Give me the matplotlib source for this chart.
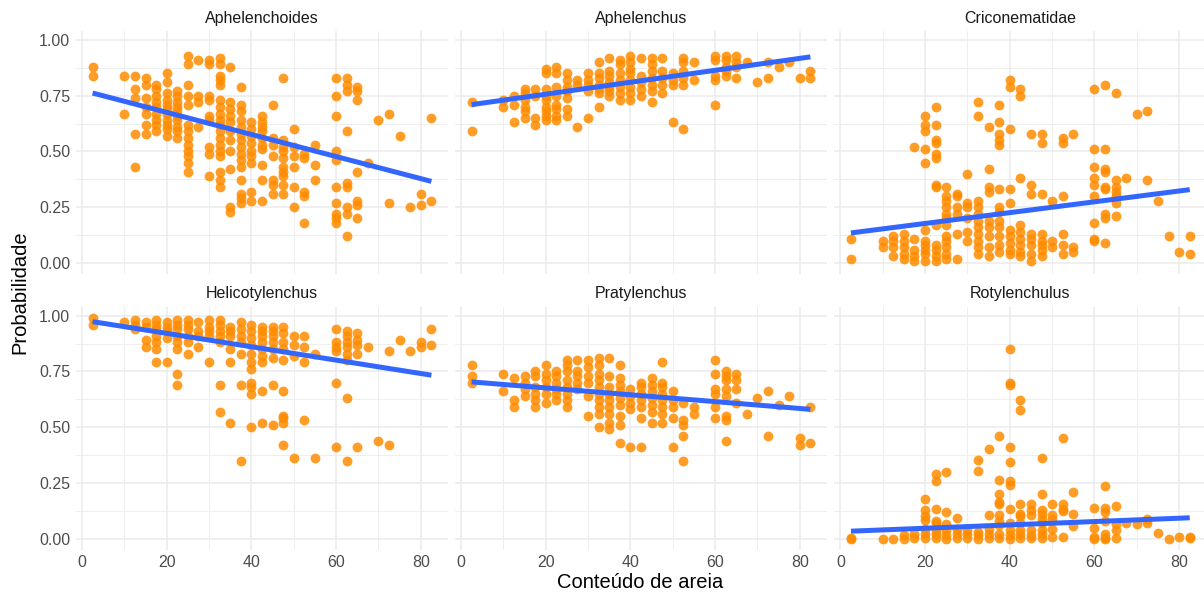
import matplotlib.pyplot as plt
from matplotlib.ticker import FixedLocator

plt.rcParams['font.family'] = ['Liberation Sans', 'DejaVu Sans']

species = ["Aphelenchoides", "Aphelenchus", "Criconematidae",
           "Helicotylenchus", "Pratylenchus", "Rotylenchulus"]

# probability values per sand-content column (x -> list of y)
aphelenchoides = {
    2.5: [0.88, 0.84], 10: [0.84, 0.67], 12.5: [0.84, 0.78, 0.74, 0.58, 0.43],
    15: [0.83, 0.80, 0.74, 0.70, 0.67, 0.62, 0.58],
    17.5: [0.80, 0.78, 0.75, 0.72, 0.70, 0.67, 0.64, 0.62, 0.59],
    20: [0.85, 0.81, 0.76, 0.73, 0.71, 0.69, 0.67, 0.64, 0.62, 0.60, 0.57],
    22.5: [0.77, 0.75, 0.72, 0.70, 0.68, 0.66, 0.64, 0.61, 0.59, 0.56],
    25: [0.93, 0.89, 0.80, 0.75, 0.71, 0.62, 0.59, 0.56, 0.53, 0.50, 0.48, 0.45, 0.41],
    27.5: [0.91, 0.75, 0.72, 0.61],
    30: [0.91, 0.89, 0.75, 0.73, 0.66, 0.64, 0.52, 0.49, 0.39],
    32.5: [0.92, 0.89, 0.84, 0.82, 0.80, 0.73, 0.70, 0.67, 0.64, 0.62, 0.59, 0.56,
           0.53, 0.50, 0.48, 0.41, 0.37, 0.34],
    35: [0.88, 0.72, 0.69, 0.66, 0.63, 0.59, 0.55, 0.50, 0.42, 0.25, 0.23],
    37.5: [0.79, 0.71, 0.68, 0.64, 0.61, 0.58, 0.55, 0.52, 0.49, 0.46, 0.43, 0.37,
           0.31, 0.29, 0.27],
    40: [0.63, 0.60, 0.57, 0.54, 0.50, 0.48, 0.45, 0.32, 0.28],
    42.5: [0.66, 0.63, 0.61, 0.59, 0.56, 0.53, 0.51, 0.44, 0.37, 0.28],
    45: [0.71, 0.56, 0.53, 0.48, 0.37, 0.35, 0.31],
    47.5: [0.83, 0.55, 0.52, 0.50, 0.47, 0.43, 0.41, 0.39, 0.35, 0.31],
    50: [0.60, 0.52, 0.48, 0.43, 0.34, 0.25],
    52.5: [0.49, 0.47, 0.32, 0.30, 0.18],
    55: [0.53, 0.44, 0.37],
    60: [0.83, 0.75, 0.66, 0.50, 0.46, 0.34, 0.27, 0.22, 0.20, 0.18],
    62.5: [0.83, 0.80, 0.77, 0.59, 0.36, 0.34, 0.25, 0.22, 0.12],
    65: [0.79, 0.77, 0.73, 0.41, 0.28, 0.26, 0.20],
    67.5: [0.45], 70: [0.64], 72.5: [0.67, 0.27], 75: [0.57], 77.5: [0.25],
    80: [0.31, 0.26], 82.5: [0.65, 0.28],
}

aphelenchus = {
    2.5: [0.72, 0.59], 10: [0.73, 0.70], 12.5: [0.75, 0.71, 0.63],
    15: [0.78, 0.76, 0.73, 0.70, 0.68, 0.65],
    17.5: [0.78, 0.75, 0.65, 0.62],
    20: [0.87, 0.85, 0.78, 0.75, 0.73, 0.70, 0.68, 0.66, 0.64],
    22.5: [0.88, 0.85, 0.79, 0.75, 0.71, 0.69, 0.66, 0.64],
    25: [0.85, 0.82, 0.79, 0.77, 0.74, 0.69, 0.66],
    27.5: [0.82, 0.80, 0.61],
    30: [0.85, 0.82, 0.80, 0.77, 0.65],
    32.5: [0.90, 0.85, 0.83, 0.80, 0.78, 0.76, 0.70],
    35: [0.92, 0.86, 0.84, 0.81, 0.79, 0.77, 0.75],
    37.5: [0.91, 0.89, 0.85, 0.82, 0.79, 0.76, 0.73],
    40: [0.93, 0.90, 0.87, 0.85, 0.82, 0.79, 0.76, 0.73],
    42.5: [0.92, 0.84, 0.81, 0.78, 0.75],
    45: [0.92, 0.89, 0.86, 0.83, 0.80, 0.77, 0.72],
    47.5: [0.92, 0.86, 0.83, 0.80, 0.76],
    50: [0.85, 0.82, 0.80, 0.63],
    52.5: [0.92, 0.90, 0.86, 0.83, 0.80, 0.60],
    55: [0.90, 0.82],
    60: [0.93, 0.91, 0.84, 0.82, 0.71],
    62.5: [0.93, 0.91, 0.88, 0.86, 0.84],
    65: [0.93, 0.90, 0.88, 0.83],
    67.5: [0.90], 70: [0.81], 72.5: [0.90, 0.83], 75: [0.88], 77.5: [0.90],
    80: [0.83], 82.5: [0.86, 0.83],
}

criconematidae = {
    2.5: [0.11, 0.02], 10: [0.10, 0.07], 12.5: [0.12, 0.10, 0.07, 0.03],
    15: [0.13, 0.10, 0.07, 0.04, 0.02],
    17.5: [0.52, 0.11, 0.06, 0.03, 0.01],
    20: [0.66, 0.62, 0.59, 0.51, 0.45, 0.15, 0.10, 0.08, 0.06, 0.04, 0.01],
    22.5: [0.70, 0.62, 0.55, 0.54, 0.49, 0.47, 0.35, 0.34, 0.17, 0.08, 0.06, 0.03, 0.01],
    25: [0.34, 0.30, 0.28, 0.25, 0.22, 0.20, 0.17, 0.12, 0.10, 0.07, 0.04, 0.02],
    27.5: [0.31, 0.30, 0.25, 0.22, 0.13, 0.02],
    30: [0.40, 0.27, 0.25, 0.20, 0.14, 0.10],
    32.5: [0.72, 0.66, 0.28, 0.25, 0.22, 0.19, 0.16, 0.13, 0.10, 0.07, 0.04],
    35: [0.61, 0.42, 0.34, 0.32, 0.19, 0.16, 0.12, 0.07, 0.03],
    37.5: [0.71, 0.63, 0.58, 0.55, 0.53, 0.33, 0.25, 0.23, 0.19, 0.16, 0.12, 0.08, 0.05],
    40: [0.82, 0.79, 0.60, 0.33, 0.27, 0.15, 0.12, 0.09, 0.06, 0.04],
    42.5: [0.78, 0.75, 0.38, 0.17, 0.14, 0.11, 0.08, 0.05, 0.03],
    45: [0.58, 0.35, 0.31, 0.13, 0.11, 0.08, 0.04, 0.01],
    47.5: [0.58, 0.54, 0.31, 0.13, 0.10, 0.08, 0.06, 0.03],
    50: [0.28, 0.10, 0.07],
    52.5: [0.56, 0.54, 0.30, 0.13, 0.08, 0.04],
    55: [0.58, 0.07, 0.05],
    60: [0.78, 0.51, 0.43, 0.38, 0.35, 0.30, 0.18, 0.11, 0.10],
    62.5: [0.80, 0.51, 0.42, 0.41, 0.34, 0.33, 0.22, 0.20, 0.09],
    65: [0.76, 0.37, 0.34, 0.32, 0.30, 0.27, 0.21],
    67.5: [0.38], 70: [0.67], 72.5: [0.68, 0.37], 75: [0.28], 77.5: [0.12],
    80: [0.05], 82.5: [0.12, 0.04],
}

helicotylenchus = {
    2.5: [0.99, 0.96], 10: [0.97], 12.5: [0.98, 0.96, 0.94],
    15: [0.97, 0.95, 0.89, 0.86],
    17.5: [0.98, 0.96, 0.94, 0.91, 0.88, 0.85, 0.79],
    20: [0.97, 0.95, 0.93, 0.90, 0.79],
    22.5: [0.98, 0.96, 0.94, 0.91, 0.88, 0.85, 0.74, 0.69],
    25: [0.98, 0.96, 0.94, 0.91, 0.88, 0.83],
    27.5: [0.97, 0.93, 0.91, 0.86],
    30: [0.98, 0.95, 0.93, 0.91, 0.79],
    32.5: [0.98, 0.96, 0.93, 0.91, 0.88, 0.69, 0.57],
    35: [0.95, 0.93, 0.91, 0.85, 0.79, 0.52],
    37.5: [0.97, 0.94, 0.91, 0.88, 0.83, 0.69, 0.35],
    40: [0.96, 0.93, 0.90, 0.87, 0.83, 0.79, 0.76, 0.70, 0.68, 0.65, 0.50],
    42.5: [0.95, 0.93, 0.91, 0.88, 0.85, 0.82, 0.79, 0.66, 0.52],
    45: [0.95, 0.93, 0.91, 0.88, 0.85, 0.81, 0.69, 0.51],
    47.5: [0.95, 0.92, 0.88, 0.85, 0.80, 0.66, 0.55, 0.54, 0.52, 0.42],
    50: [0.91, 0.87, 0.82, 0.36],
    52.5: [0.91, 0.86, 0.79, 0.53],
    55: [0.83, 0.36],
    60: [0.94, 0.88, 0.86, 0.84, 0.70, 0.41],
    62.5: [0.93, 0.91, 0.88, 0.86, 0.83, 0.80, 0.63, 0.35],
    65: [0.92, 0.89, 0.87, 0.83, 0.41],
    67.5: [0.86], 70: [0.44], 72.5: [0.84, 0.42], 75: [0.89], 77.5: [0.84],
    80: [0.88, 0.86], 82.5: [0.94, 0.87],
}

pratylenchus = {
    2.5: [0.78, 0.73, 0.70], 10: [0.74, 0.66], 12.5: [0.72, 0.62, 0.59],
    15: [0.73, 0.70, 0.67, 0.64],
    17.5: [0.75, 0.73, 0.68, 0.65, 0.62, 0.59],
    20: [0.78, 0.74, 0.71, 0.68, 0.65, 0.61],
    22.5: [0.75, 0.73, 0.70, 0.67, 0.65, 0.62],
    25: [0.80, 0.78, 0.75, 0.71, 0.68, 0.65, 0.62, 0.59],
    27.5: [0.80, 0.75, 0.73, 0.70, 0.67],
    30: [0.80, 0.77, 0.73, 0.70, 0.64, 0.55],
    32.5: [0.81, 0.78, 0.74, 0.71, 0.68, 0.65, 0.62, 0.59, 0.56, 0.50],
    35: [0.81, 0.73, 0.68, 0.65, 0.62, 0.59, 0.56, 0.52, 0.49],
    37.5: [0.78, 0.72, 0.69, 0.66, 0.63, 0.60, 0.55, 0.51, 0.43],
    40: [0.67, 0.64, 0.61, 0.58, 0.41],
    42.5: [0.70, 0.68, 0.65, 0.62, 0.59, 0.54, 0.41],
    45: [0.72, 0.69, 0.66, 0.63, 0.60, 0.57, 0.52],
    47.5: [0.79, 0.70, 0.68, 0.65, 0.62, 0.59, 0.56, 0.52],
    50: [0.66, 0.62, 0.59, 0.54, 0.41],
    52.5: [0.61, 0.53, 0.51, 0.46, 0.35],
    55: [0.59, 0.56],
    60: [0.80, 0.74, 0.67, 0.65, 0.59, 0.54],
    62.5: [0.75, 0.73, 0.71, 0.67, 0.64, 0.55, 0.53, 0.44],
    65: [0.74, 0.71, 0.67, 0.61],
    67.5: [0.56], 70: [0.63], 72.5: [0.66, 0.46], 75: [0.60], 77.5: [0.64],
    80: [0.45, 0.42], 82.5: [0.59, 0.43],
}

rotylenchulus = {
    2.5: [0.005, 0.0], 10: [0.0], 12.5: [0.0], 15: [0.015, 0.0], 17.5: [0.02, 0.005],
    20: [0.18, 0.13, 0.10, 0.085, 0.045, 0.02, 0.005],
    22.5: [0.29, 0.26, 0.135, 0.08, 0.07, 0.04, 0.02, 0.005],
    25: [0.30, 0.12, 0.065, 0.04, 0.015, 0.0],
    27.5: [0.095, 0.045, 0.02, 0.005],
    30: [0.04, 0.02, 0.005],
    32.5: [0.355, 0.305, 0.03, 0.015, 0.0],
    35: [0.40, 0.105, 0.045, 0.02, 0.005],
    37.5: [0.46, 0.265, 0.20, 0.165, 0.155, 0.105, 0.08, 0.06, 0.02, 0.005],
    40: [0.85, 0.70, 0.69, 0.41, 0.345, 0.26, 0.24, 0.135, 0.07, 0.04, 0.015, 0.0],
    42.5: [0.62, 0.575, 0.155, 0.11, 0.10, 0.07, 0.04, 0.02, 0.005],
    45: [0.155, 0.13, 0.105, 0.04, 0.015, 0.005],
    47.5: [0.36, 0.20, 0.13, 0.11, 0.09, 0.07, 0.04, 0.02, 0.005],
    50: [0.155, 0.105, 0.09, 0.045, 0.01],
    52.5: [0.45, 0.155, 0.135, 0.125, 0.01],
    55: [0.21, 0.11, 0.055],
    60: [0.14, 0.05, 0.01, 0.0],
    62.5: [0.235, 0.14, 0.12, 0.08, 0.02, 0.005, 0.0],
    65: [0.145, 0.065, 0.04, 0.005],
    67.5: [0.07], 70: [0.065], 72.5: [0.09, 0.07], 75: [0.025], 77.5: [0.0],
    80: [0.01], 82.5: [0.01, 0.005],
}

panel_data = [aphelenchoides, aphelenchus, criconematidae,
              helicotylenchus, pratylenchus, rotylenchulus]

# linear trend read at the ends of the x range
trend_x = [2.5, 82.5]
trend_start = [0.762, 0.71, 0.135, 0.973, 0.703, 0.034]
trend_end = [0.366, 0.924, 0.329, 0.733, 0.58, 0.094]

x_ticks = [0, 20, 40, 60, 80]
y_ticks = [0.0, 0.25, 0.5, 0.75, 1.0]
y_tick_labels = ["0.00", "0.25", "0.50", "0.75", "1.00"]

W, H = 1204, 599
fig = plt.figure(figsize=(W / 100, H / 100), dpi=100)

lefts = [75.65, 454.65, 834.0]
pw = 372.7
tops = [31.1, 306.8]
ph = 243.0

for i, name in enumerate(species):
    r, c = divmod(i, 3)
    ax = fig.add_axes([lefts[c] / W, 1 - (tops[r] + ph) / H, pw / W, ph / H])
    d = panel_data[i]
    xs = [x for x, ys in d.items() for _ in ys]
    ys = [y for x, yl in d.items() for y in yl]
    ax.scatter(xs, ys, s=50, color="#FF8C00", alpha=0.85, linewidths=0, zorder=2)
    ax.plot(trend_x, [trend_start[i], trend_end[i]], color="#3366FF", lw=3.6,
            solid_capstyle="butt", zorder=3)
    ax.set_xlim(-1.5, 86.5)
    ax.set_ylim(-0.0495, 1.0395)
    ax.set_xticks(x_ticks)
    ax.set_yticks(y_ticks)
    ax.xaxis.set_minor_locator(FixedLocator([10, 30, 50, 70]))
    ax.yaxis.set_minor_locator(FixedLocator([0.125, 0.375, 0.625, 0.875]))
    ax.grid(True, which="major", color="#EBEBEB", lw=1.1, zorder=0)
    ax.grid(True, which="minor", color="#EBEBEB", lw=0.6, zorder=0)
    ax.set_axisbelow(True)
    for s in ax.spines.values():
        s.set_visible(False)
    ax.tick_params(which="both", length=0, labelsize=11.5, labelcolor="#4D4D4D", pad=4)
    if c == 0:
        ax.set_yticklabels(y_tick_labels)
    else:
        ax.set_yticklabels([])
    if r == 0:
        ax.set_xticklabels([])
    ax.text(0.5, 1.0 + 13 / ph, name, transform=ax.transAxes, ha="center",
            va="center", fontsize=11.5, color="#1A1A1A")

fig.text(640 / W, 1 - 583 / H, "Conteúdo de areia", ha="center", va="center",
         fontsize=14.5, color="black")
fig.text(20 / W, 1 - 292 / H, "Probabilidade", ha="center", va="center",
         rotation=90, fontsize=14.5, color="black")

fig.savefig("out.png", dpi=100)
